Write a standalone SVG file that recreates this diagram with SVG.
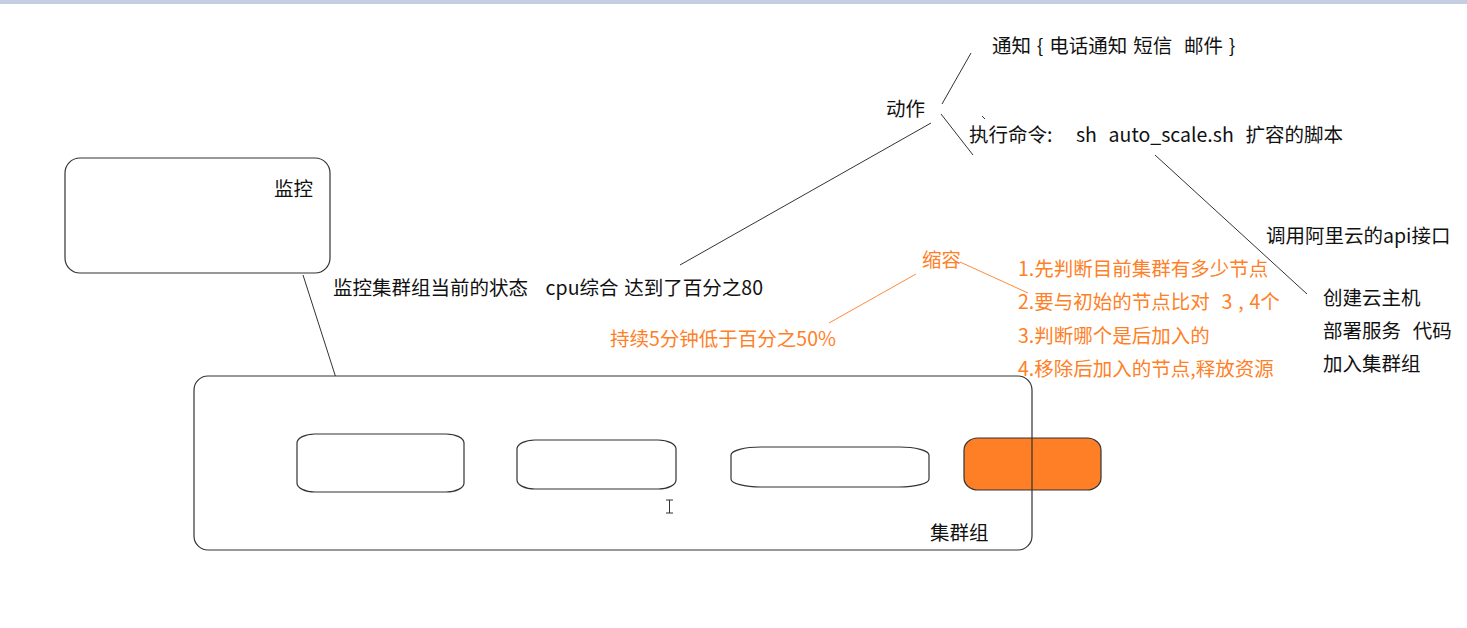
<svg xmlns="http://www.w3.org/2000/svg" width="1467" height="628" viewBox="0 0 1467 628">
<style>
.t{font-family:"Microsoft YaHei","Noto Sans CJK SC","Noto Sans",sans-serif;font-size:19.5px;fill:#111;word-spacing:1.5px}
.o{fill:#ff7f27}
.ln{stroke:#333;stroke-width:1;fill:none}
.lo{stroke:#ff8a3d;stroke-width:1;fill:none}
.box{fill:#fff;stroke:#333;stroke-width:1.2}
</style>
<rect x="0" y="0" width="1467" height="4" fill="#c5cde0"/>
<g id="connectors">
<line class="ln" x1="303" y1="275" x2="336" y2="378"/>
<line class="ln" x1="680" y1="265" x2="931" y2="123"/>
<line class="ln" x1="942" y1="104" x2="971" y2="53"/>
<line class="ln" x1="941" y1="114" x2="973" y2="155"/>
<line class="ln" x1="982" y1="116" x2="985" y2="119"/>
<line class="ln" x1="1155" y1="155" x2="1307" y2="294"/>
<line class="lo" x1="960" y1="262" x2="1028" y2="293"/>
<line class="lo" x1="829" y1="323" x2="916" y2="274"/>
</g>
<g id="monitor">
<rect class="box" x="65" y="158" width="265" height="115" rx="15"/>
<text class="t" x="274" y="196">监控</text>
</g>
<g id="cluster">
<rect x="194" y="376" width="838" height="174" rx="14" fill="#fff" stroke="none"/>
<g id="node1"><rect class="box" x="297" y="434" width="167" height="58" rx="18" ry="9"/></g>
<g id="node2"><rect class="box" x="517" y="440" width="159" height="49" rx="18" ry="9"/></g>
<g id="node3"><rect class="box" x="731" y="447" width="198" height="40" rx="30" ry="8"/></g>
<g id="node4"><rect x="964" y="438" width="137" height="52" rx="14" ry="12" fill="#ff7f27" stroke="#333" stroke-width="1.2"/></g>
<rect x="194" y="376" width="838" height="174" rx="14" fill="none" stroke="#333" stroke-width="1.2"/>
<text class="t" x="930" y="540">集群组</text>
</g>
<path d="M666 500h7M666 513h7M669.5 500v13" stroke="#333" stroke-width="1" fill="none"/>
<g id="labels">
<text class="t" x="333" y="295" xml:space="preserve">监控集群组当前的状态   cpu综合 达到了百分之80</text>
<text class="t" x="886" y="116">动作</text>
<text class="t" x="992" y="53" xml:space="preserve">通知 { 电话通知 短信  邮件 }</text>
<text class="t" x="969" y="142" xml:space="preserve">执行命令:    sh  auto_scale.sh  扩容的脚本</text>
<text class="t" x="1266" y="243">调用阿里云的api接口</text>
<text class="t" x="1323" y="305">创建云主机</text>
<text class="t" x="1323" y="338" xml:space="preserve">部署服务  代码</text>
<text class="t" x="1323" y="371">加入集群组</text>
<text class="t o" x="922" y="267">缩容</text>
<text class="t o" x="610" y="346">持续5分钟低于百分之50%</text>
<text class="t o" x="1018" y="276">1.先判断目前集群有多少节点</text>
<text class="t o" x="1018" y="309" xml:space="preserve">2.要与初始的节点比对  3 , 4个</text>
<text class="t o" x="1018" y="343">3.判断哪个是后加入的</text>
<text class="t o" x="1018" y="376">4.移除后加入的节点,释放资源</text>
</g>
</svg>
